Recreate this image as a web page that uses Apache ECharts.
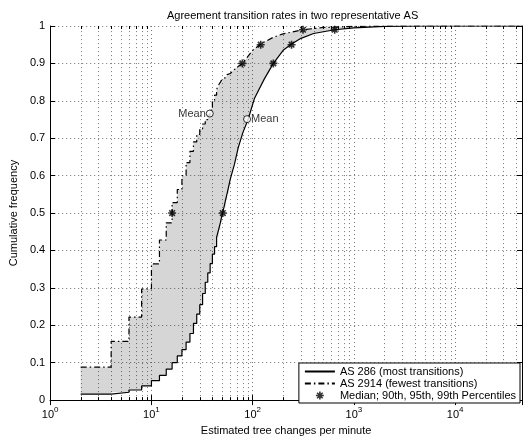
<!DOCTYPE html>
<html>
<head>
<meta charset="utf-8">
<script src="https://cdn.jsdelivr.net/npm/echarts@6/dist/echarts.min.js"></script>
<style>
html, body { margin: 0; padding: 0; background: #fff; }
#chart { width: 525px; height: 441px; }
</style>
</head>
<body>
<div id="chart"></div>
<script>
// x range (log axis) and y range
var xMin = 1, xMax = 45700;

// stepped part of both CDFs (rates are whole multiples of 2)
var stepRate = [2, 4, 6, 8, 10, 12, 14, 16, 18, 20, 22, 24, 26, 28, 30, 32, 34, 36, 38, 40, 42, 44, 46, 48, 50, 52, 54, 56, 58, 60];
var as286Step = [0.016, 0.021, 0.027, 0.038, 0.052, 0.066, 0.083, 0.10, 0.118, 0.135, 0.155, 0.178, 0.205, 0.23, 0.255,
    0.285, 0.315, 0.34, 0.365, 0.39, 0.41, 0.435, 0.455, 0.475, 0.497, 0.515, 0.535, 0.553, 0.572, 0.59];
var as2914Step = [0.088, 0.157, 0.222, 0.297, 0.364, 0.428, 0.474, 0.528, 0.563, 0.60, 0.635, 0.665, 0.69, 0.71, 0.725,
    0.738, 0.75, 0.762, 0.775, 0.80, 0.815, 0.83, 0.842, 0.85, 0.858, 0.862, 0.866, 0.870, 0.873, 0.876];

// upper tails
var as286TailRate = [66, 72, 80, 90, 104, 130, 160, 200, 242, 300, 400, 646, 1000, 2000, 5000, 45700];
var as286TailCdf = [0.63, 0.675, 0.715, 0.75, 0.806, 0.858, 0.90, 0.935, 0.952, 0.967, 0.98, 0.99, 0.995, 0.999, 1, 1];
var as2914TailRate = [70, 79, 100, 120, 160, 200, 314, 500, 1000, 2000, 45700];
var as2914TailCdf = [0.89, 0.90, 0.935, 0.952, 0.97, 0.979, 0.99, 0.996, 0.999, 1, 1];

// median, 90th, 95th, 99th percentiles
var pctLevels = [0.5, 0.9, 0.95, 0.99];
var as286Pct = [50.7, 160, 242, 646];
var as2914Pct = [16, 79, 120, 314];

// means
var as286Mean = [88, 0.751];
var as2914Mean = [37.7, 0.766];

var name286 = 'AS 286 (most transitions)';
var name2914 = 'AS 2914 (fewest transitions)';
var namePct = 'Median; 90th, 95th, 99th Percentiles';

var font = '"Liberation Sans", Arial, Helvetica, sans-serif';
var starPath = 'path://M-1,-5L1,-5L1,-1L5,-1L5,1L1,1L1,5L-1,5L-1,1L-5,1L-5,-1L-1,-1Z' +
    'M-4.2,-2.8L-2.8,-4.2L4.2,2.8L2.8,4.2ZM2.8,-4.2L4.2,-2.8L-2.8,4.2L-4.2,2.8Z';

function stairs(xs, ys, tx, ty) {
    var pts = [[xs[0], ys[0]]];
    for (var i = 1; i < xs.length; i++) {
        pts.push([xs[i], ys[i - 1]]);
        pts.push([xs[i], ys[i]]);
    }
    for (var j = 0; j < tx.length; j++) {
        pts.push([tx[j], ty[j]]);
    }
    return pts;
}

var line286 = stairs(stepRate, as286Step, as286TailRate, as286TailCdf);
var line2914 = stairs(stepRate, as2914Step, as2914TailRate, as2914TailCdf);

// minor grid positions 2..9 x 10^n
var minorTicks = [];
for (var d = 1; d < xMax; d *= 10) {
    for (var k = 2; k <= 9; k++) {
        if (k * d < xMax) minorTicks.push([k * d, 0]);
    }
}

var pctData = [];
for (var i = 0; i < pctLevels.length; i++) {
    pctData.push([as2914Pct[i], pctLevels[i]]);
    pctData.push([as286Pct[i], pctLevels[i]]);
}

var chart = echarts.init(document.getElementById('chart'));

var gridLine = {show: true, lineStyle: {color: '#777', type: [1, 3], width: 1}};

var option = {
    animation: false,
    backgroundColor: '#fff',
    textStyle: {fontFamily: font},
    title: {
        text: 'Agreement transition rates in two representative AS',
        left: 162, top: 5,
        textStyle: {fontSize: 11, fontWeight: 'normal', color: '#000', fontFamily: font}
    },
    grid: {left: 44, right: 1, top: 26, bottom: 35},
    legend: {
        orient: 'vertical',
        right: 5, bottom: 38,
        data: [
            {name: name286, itemStyle: {opacity: 0}},
            {name: name2914, itemStyle: {opacity: 0}},
            {name: namePct, icon: starPath}
        ],
        itemWidth: 30, itemHeight: 8, itemGap: 1,
        padding: [3, 4, 2, 5],
        backgroundColor: '#fff',
        borderColor: '#000', borderWidth: 1,
        textStyle: {fontSize: 11, color: '#000', fontFamily: font}
    },
    xAxis: [{
        type: 'log', logBase: 10, min: xMin, max: xMax,
        name: 'Estimated tree changes per minute',
        nameLocation: 'middle', nameGap: 12,
        nameTextStyle: {fontSize: 11, color: '#000'},
        axisLine: {lineStyle: {color: '#000', width: 1}},
        axisTick: {inside: true, length: 5, lineStyle: {color: '#000'}},
        axisLabel: {
            color: '#000', margin: 6,
            formatter: function (v) {
                var e = Math.log10(v);
                if (Math.abs(e - Math.round(e)) > 1e-6) return '';
                return '{b|10}{e|' + Math.round(e) + '}';
            },
            rich: {
                b: {fontSize: 11, color: '#000', fontFamily: font, lineHeight: 14, verticalAlign: 'bottom'},
                e: {fontSize: 8, color: '#000', fontFamily: font, lineHeight: 14, verticalAlign: 'top'}
            }
        },
        splitLine: gridLine
    }, {
        type: 'log', logBase: 10, min: xMin, max: xMax, position: 'top',
        axisLine: {lineStyle: {color: '#000', width: 1}},
        axisTick: {inside: true, length: 5, lineStyle: {color: '#000'}},
        axisLabel: {show: false},
        splitLine: {show: false}
    }],
    yAxis: [{
        type: 'value', min: 0, max: 1, interval: 0.1,
        name: 'Cumulative frequency',
        nameLocation: 'middle', nameGap: 27, nameRotate: 90,
        nameTextStyle: {fontSize: 11, color: '#000'},
        axisLine: {show: true, lineStyle: {color: '#000', width: 1}},
        axisTick: {show: true, inside: true, length: 5, lineStyle: {color: '#000'}},
        axisLabel: {color: '#000', fontSize: 11, margin: 5},
        splitLine: gridLine
    }, {
        type: 'value', min: 0, max: 1, interval: 0.1, position: 'right',
        axisLine: {show: true, lineStyle: {color: '#000', width: 1}},
        axisTick: {show: true, inside: true, length: 5, lineStyle: {color: '#000'}},
        axisLabel: {show: false},
        splitLine: {show: false}
    }],
    series: [{
        // minor x grid lines and minor ticks
        type: 'custom', silent: true, z: 1,
        data: minorTicks,
        encode: {x: 0, y: 1},
        renderItem: function (params, api) {
            var v = api.value(0);
            var b = api.coord([v, 0]), t = api.coord([v, 1]);
            var x = Math.round(b[0]) + 0.5;
            return {
                type: 'group', children: [
                    {type: 'line', shape: {x1: x, y1: b[1], x2: x, y2: t[1]}, style: {stroke: '#777', lineWidth: 1, lineDash: [1, 3]}},
                    {type: 'line', shape: {x1: x, y1: b[1], x2: x, y2: b[1] - 3}, style: {stroke: '#000', lineWidth: 1}},
                    {type: 'line', shape: {x1: x, y1: t[1], x2: x, y2: t[1] + 3}, style: {stroke: '#000', lineWidth: 1}}
                ]
            };
        }
    }, {
        // shaded band between the two CDFs
        type: 'custom', silent: true, z: 2,
        data: [[1, 0]],
        encode: {x: 0, y: 1},
        renderItem: function (params, api) {
            var pts = [], i;
            for (i = 0; i < line2914.length; i++) pts.push(api.coord(line2914[i]));
            for (i = line286.length - 1; i >= 0; i--) pts.push(api.coord(line286[i]));
            return {type: 'polygon', shape: {points: pts}, style: {fill: 'rgba(0,0,0,0.16)', stroke: 'none'}};
        }
    }, {
        name: name286, type: 'line', z: 3,
        data: line286, showSymbol: false, symbol: 'none',
        itemStyle: {color: '#000'},
        lineStyle: {color: '#000', width: 1.2}
    }, {
        name: name2914, type: 'line', z: 3,
        data: line2914, showSymbol: false, symbol: 'none',
        itemStyle: {color: '#000'},
        lineStyle: {color: '#000', width: 1.2, type: [6, 3, 1.5, 3]}
    }, {
        name: namePct, type: 'scatter', z: 4,
        data: pctData, symbol: starPath, symbolSize: 8,
        itemStyle: {color: '#000'}
    }, {
        name: 'mean', type: 'scatter', z: 4,
        symbol: 'circle', symbolSize: 7,
        itemStyle: {color: '#fff', borderColor: '#000', borderWidth: 1},
        label: {show: true, formatter: 'Mean', fontSize: 11, color: '#000', distance: 0},
        data: [
            {value: as2914Mean, label: {position: 'left'}},
            {value: as286Mean, label: {position: 'right'}}
        ]
    }]
};

chart.setOption(option);
</script>
</body>
</html>
